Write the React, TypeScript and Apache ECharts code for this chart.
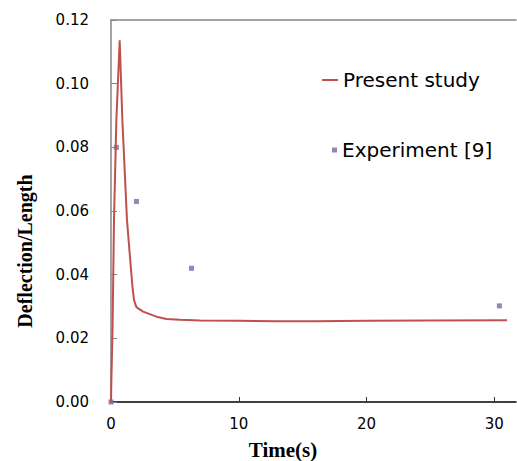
import React, { useEffect, useRef } from "react";
import * as echarts from "echarts";

const timeS = [0, 0.03, 0.12, 0.235, 0.42, 0.68, 0.89, 1.25, 1.46, 1.68, 1.8, 1.99, 2.51, 3.56, 4.34, 5.38, 7, 10, 13, 16, 20, 25, 31];
const presentStudy = [0, 0.007, 0.0226, 0.0572, 0.0886, 0.1136, 0.0886, 0.0572, 0.0468, 0.0362, 0.032, 0.0298, 0.0284, 0.0268, 0.0261, 0.0258, 0.0256, 0.0255, 0.0254, 0.0254, 0.0255, 0.0256, 0.0257];
const expTime = [0, 0.42, 1.99, 6.3, 30.4];
const expValue = [0, 0.08, 0.063, 0.042, 0.0302];
const xTicks = [0, 10, 20, 30];

export default function App() {
  const ref = useRef<HTMLDivElement>(null);
  useEffect(() => {
    if (!ref.current) return;
    const chart = echarts.init(ref.current, undefined, { renderer: "svg" });
    const lineData = timeS.map((t, i) => [t, presentStudy[i]]);
    const expData = expTime.map((t, i) => [t, expValue[i]]);
    const labelFont = { fontFamily: "DejaVu Sans", fontSize: 15, color: "#000" };
    chart.setOption({
      animation: false,
      backgroundColor: "#fff",
      grid: { left: 111, top: 20, right: 1, bottom: 59 },
      legend: [
        {
          data: [{ name: "Present study", icon: "rect" }],
          left: 322,
          top: 70,
          orient: "vertical",
          itemWidth: 16,
          itemHeight: 2,
          padding: 0,
          textStyle: { fontFamily: "DejaVu Sans", fontSize: 20, color: "#000" },
        },
        {
          data: [{ name: "Experiment [9]", icon: "rect" }],
          left: 332,
          top: 140,
          orient: "vertical",
          itemWidth: 5,
          itemHeight: 5,
          padding: 0,
          textStyle: { fontFamily: "DejaVu Sans", fontSize: 20, color: "#000" },
        },
      ],
      xAxis: [
        {
          type: "value",
          min: 0,
          max: 31.7,
          interval: 10,
          axisLine: { show: true, onZero: false, lineStyle: { color: "#000", width: 1.5 } },
          axisTick: { show: true, inside: true, length: 5, lineStyle: { color: "#333" }, customValues: xTicks },
          axisLabel: { ...labelFont, margin: 14, customValues: xTicks },
          splitLine: { show: false },
        },
        {
          type: "value",
          position: "top",
          min: 0,
          max: 31.7,
          axisLine: { show: true, onZero: false, lineStyle: { color: "#868686", width: 1.5 } },
          axisTick: { show: false },
          axisLabel: { show: false },
          splitLine: { show: false },
        },
      ],
      yAxis: {
        type: "value",
        min: 0,
        max: 0.12,
        interval: 0.02,
        axisLine: { show: true, onZero: false, lineStyle: { color: "#868686", width: 1.5 } },
        axisTick: { show: true, inside: true, length: 6, lineStyle: { color: "#868686" } },
        axisLabel: { ...labelFont, margin: 22, formatter: (v: number) => v.toFixed(2) },
        splitLine: { show: false },
      },
      graphic: [
        {
          type: "text",
          x: 25,
          y: 251,
          rotation: Math.PI / 2,
          style: {
            text: "Deflection/Length",
            font: "bold 20px 'Liberation Serif'",
            fill: "#000",
            align: "center",
            verticalAlign: "middle",
          },
        },
        {
          type: "text",
          x: 283,
          y: 450,
          style: {
            text: "Time(s)",
            font: "bold 21px 'Liberation Serif'",
            fill: "#000",
            align: "center",
            verticalAlign: "middle",
          },
        },
      ],
      series: [
        {
          name: "Present study",
          type: "line",
          data: lineData,
          symbol: "none",
          showSymbol: false,
          lineStyle: { color: "#C0504D", width: 2 },
          itemStyle: { color: "#C0504D" },
        },
        {
          name: "Experiment [9]",
          type: "scatter",
          data: expData,
          symbol: "rect",
          symbolSize: 5,
          clip: false,
          itemStyle: { color: "#8064A2" },
        },
      ],
    });
    return () => chart.dispose();
  }, []);
  return <div ref={ref} style={{ position: "absolute", left: 0, top: 0, width: 517, height: 461 }} />;
}
